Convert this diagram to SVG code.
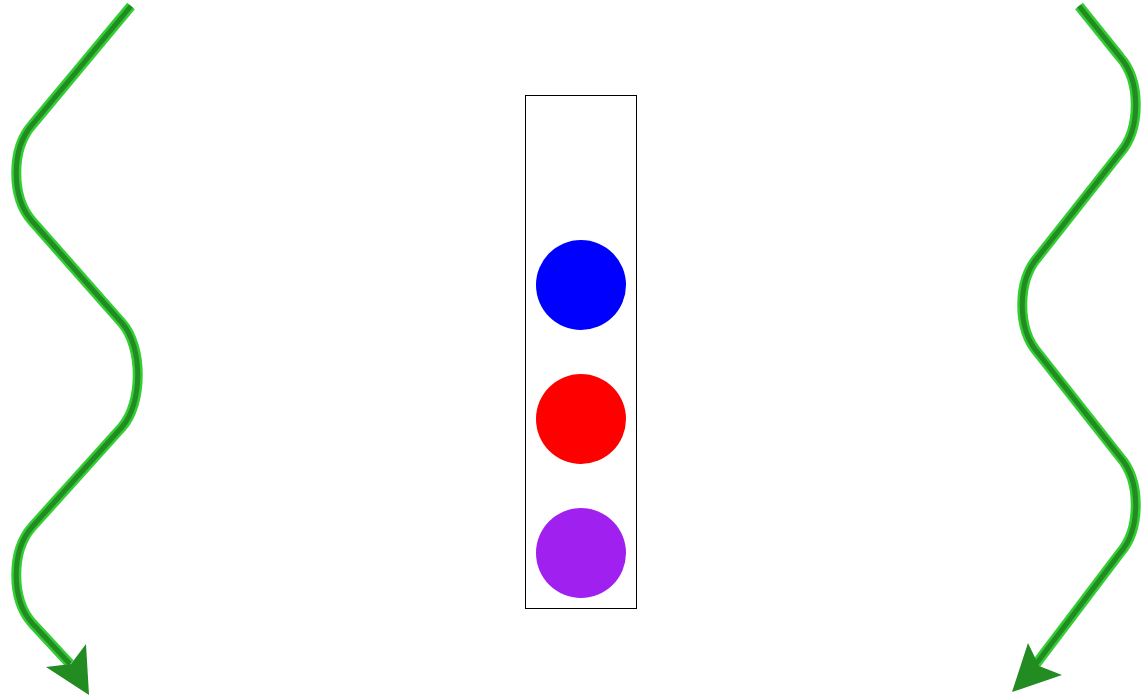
<svg xmlns="http://www.w3.org/2000/svg" width="1144" height="699" viewBox="0 0 1144 699">
<style>
.outer{fill:none;stroke:#32CD32;stroke-width:10;stroke-linejoin:round}
.inner{fill:none;stroke:#228B22;stroke-width:5;stroke-linejoin:round}
.head{fill:#228B22}
.box{fill:#fff;stroke:#000;stroke-width:1}
</style>
<rect width="1144" height="699" fill="#fff"/>
<g id="connectors">
<g id="wave-left">
<path class="outer" d="M 131 6 L 32 125 C 11 149, 11 197, 32 221 L 122 323 C 143 347, 143 403, 122 427 L 32 527 C 11 551, 11 599, 32 623 L 70 664"/>
<path class="inner" d="M 131 6 L 32 125 C 11 149, 11 197, 32 221 L 122 323 C 143 347, 143 403, 122 427 L 32 527 C 11 551, 11 599, 32 623 L 70 664"/>
<polygon class="head" points="89,695 46,667 71,664 86,644"/>
</g>
<g id="wave-right">
<path class="outer" d="M 1079 6 L 1120 57 C 1141 81, 1141 129, 1120 153 L 1038 257 C 1017 281, 1017 329, 1038 353 L 1120 457 C 1141 481, 1141 529, 1120 553 L 1036 664"/>
<path class="inner" d="M 1079 6 L 1120 57 C 1141 81, 1141 129, 1120 153 L 1038 257 C 1017 281, 1017 329, 1038 353 L 1120 457 C 1141 481, 1141 529, 1120 553 L 1036 664"/>
<polygon class="head" points="1012,692 1028,643 1039,666 1062,675"/>
</g>
</g>
<g id="container">
<rect class="box" x="525.5" y="95.5" width="111" height="513"/>
</g>
<g id="node-blue"><circle cx="581" cy="285" r="45" fill="#0000FF"/></g>
<g id="node-red"><circle cx="581" cy="419" r="45" fill="#FF0000"/></g>
<g id="node-purple"><circle cx="581" cy="553" r="45" fill="#A020F0"/></g>
</svg>
